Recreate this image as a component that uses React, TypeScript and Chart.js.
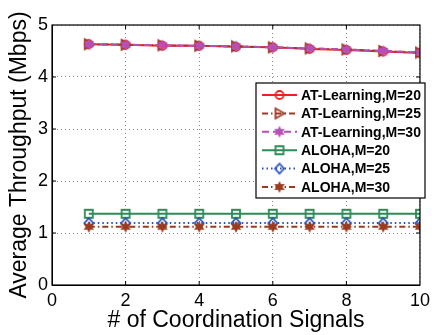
import React, { useEffect, useRef } from "react";
import { Chart, registerables } from "chart.js";

Chart.register(...registerables);

const xValues = [1, 2, 3, 4, 5, 6, 7, 8, 9, 10];
const atM20 = [4.63, 4.62, 4.6, 4.6, 4.58, 4.57, 4.54, 4.52, 4.49, 4.46];
const atM25 = [4.63, 4.62, 4.61, 4.6, 4.59, 4.57, 4.55, 4.53, 4.5, 4.47];
const atM30 = [4.63, 4.62, 4.61, 4.6, 4.59, 4.57, 4.55, 4.53, 4.5, 4.47];
const alohaM20 = [1.37, 1.37, 1.37, 1.37, 1.37, 1.37, 1.37, 1.37, 1.37, 1.37];
const alohaM25 = [1.19, 1.19, 1.19, 1.19, 1.19, 1.19, 1.19, 1.19, 1.19, 1.19];
const alohaM30 = [1.12, 1.12, 1.12, 1.12, 1.12, 1.12, 1.12, 1.12, 1.12, 1.12];
const seriesLabels = [
  "AT-Learning,M=20",
  "AT-Learning,M=25",
  "AT-Learning,M=30",
  "ALOHA,M=20",
  "ALOHA,M=25",
  "ALOHA,M=30",
];
const xTitle = "# of Coordination Signals";
const yTitle = "Average Throughput (Mbps)";

const FONT = "'Liberation Sans', Arial, Helvetica, sans-serif";

function makeMarker(kind: string, color: string): HTMLCanvasElement {
  const s = 16;
  const c = document.createElement("canvas");
  c.width = s;
  c.height = s;
  const ctx = c.getContext("2d")!;
  const cx = s / 2;
  const cy = s / 2;
  ctx.strokeStyle = color;
  ctx.fillStyle = color;
  ctx.lineWidth = 1.8;
  ctx.beginPath();
  if (kind === "circle") {
    ctx.arc(cx, cy, 4, 0, Math.PI * 2);
    ctx.stroke();
  } else if (kind === "triRight") {
    ctx.moveTo(cx + 5, cy);
    ctx.lineTo(cx - 4, cy - 5);
    ctx.lineTo(cx - 4, cy + 5);
    ctx.closePath();
    ctx.stroke();
  } else if (kind === "star") {
    const ro = 6;
    const ri = 3.2;
    for (let i = 0; i < 12; i++) {
      const a = -Math.PI / 2 + (i * Math.PI) / 6;
      const r = i % 2 === 0 ? ro : ri;
      const px = cx + r * Math.cos(a);
      const py = cy + r * Math.sin(a);
      if (i === 0) ctx.moveTo(px, py);
      else ctx.lineTo(px, py);
    }
    ctx.closePath();
    ctx.fill();
  } else if (kind === "square") {
    ctx.rect(cx - 4, cy - 4, 8, 8);
    ctx.stroke();
  } else if (kind === "diamond") {
    ctx.moveTo(cx, cy - 5);
    ctx.lineTo(cx + 4.5, cy);
    ctx.lineTo(cx, cy + 5);
    ctx.lineTo(cx - 4.5, cy);
    ctx.closePath();
    ctx.stroke();
  }
  return c;
}

export default function App() {
  const ref = useRef<HTMLCanvasElement | null>(null);

  useEffect(() => {
    if (!ref.current) return;
    const styles = [
      { color: "#ee2020", dash: [] as number[], marker: "circle" },
      { color: "#a03a28", dash: [6, 3, 1.5, 3], marker: "triRight" },
      { color: "#b650b6", dash: [7, 4], marker: "star" },
      { color: "#2e8b57", dash: [] as number[], marker: "square" },
      { color: "#2a50b8", dash: [1.5, 3], marker: "diamond" },
      { color: "#9c3a1e", dash: [6, 3, 1.5, 3], marker: "star" },
    ];
    const series = [atM20, atM25, atM30, alohaM20, alohaM25, alohaM30];
    const markers = styles.map((s) => makeMarker(s.marker, s.color));

    const datasets = series.map((vals, i) => ({
      label: seriesLabels[i],
      data: vals.map((v, j) => ({ x: xValues[j], y: v })),
      borderColor: styles[i].color,
      borderWidth: 2,
      borderDash: styles[i].dash,
      pointStyle: markers[i],
      pointRadius: 5,
      fill: false,
      tension: 0,
      order: 10 - i,
    }));

    const framePlugin = {
      id: "frame",
      afterDatasetsDraw(chart: any) {
        const { ctx, chartArea } = chart;
        const { left, right, top, bottom } = chartArea;
        ctx.save();
        ctx.strokeStyle = "#000";
        ctx.lineWidth = 1.2;
        ctx.setLineDash([]);
        ctx.strokeRect(left, top, right - left, bottom - top);
        const xs = chart.scales.x;
        const ys = chart.scales.y;
        ctx.lineWidth = 1;
        ctx.beginPath();
        for (let v = 2; v < 10; v += 2) {
          const px = xs.getPixelForValue(v);
          ctx.moveTo(px, bottom);
          ctx.lineTo(px, bottom - 4);
          ctx.moveTo(px, top);
          ctx.lineTo(px, top + 4);
        }
        for (let v = 1; v < 5; v++) {
          const py = ys.getPixelForValue(v);
          ctx.moveTo(left, py);
          ctx.lineTo(left + 4, py);
          ctx.moveTo(right, py);
          ctx.lineTo(right - 4, py);
        }
        ctx.stroke();

        // legend
        const bx = 256;
        const by = 83;
        const bw = 169;
        const bh = 115;
        ctx.fillStyle = "#fff";
        ctx.fillRect(bx, by, bw, bh);
        ctx.strokeStyle = "#000";
        ctx.lineWidth = 1.2;
        ctx.strokeRect(bx, by, bw, bh);
        ctx.font = `bold 14px ${FONT}`;
        ctx.textBaseline = "middle";
        ctx.textAlign = "left";
        for (let i = 0; i < 6; i++) {
          const ry = 95 + i * 18.4;
          ctx.strokeStyle = styles[i].color;
          ctx.lineWidth = 2;
          ctx.setLineDash(styles[i].dash);
          ctx.beginPath();
          ctx.moveTo(262, ry);
          ctx.lineTo(297, ry);
          ctx.stroke();
          ctx.setLineDash([]);
          ctx.drawImage(markers[i], 279.5 - 8, ry - 8);
          ctx.fillStyle = "#000";
          ctx.fillText(seriesLabels[i], 301, ry + 1);
        }
        ctx.restore();
      },
    };

    const chart = new Chart(ref.current, {
      type: "line",
      data: { datasets },
      options: {
        animation: false,
        responsive: false,
        maintainAspectRatio: false,
        layout: { padding: { top: 25, right: 12, left: 0, bottom: 0 } },
        plugins: {
          legend: { display: false },
          tooltip: { enabled: false },
        },
        scales: {
          x: {
            type: "linear",
            min: 0,
            max: 10,
            afterFit: (s: any) => {
              s.height = 50;
            },
            ticks: {
              stepSize: 2,
              color: "#000",
              padding: 5,
              maxRotation: 0,
              font: { family: FONT, size: 18 },
            },
            grid: {
              color: "#888",
              lineWidth: 1,
              drawTicks: false,
            },
            border: { display: true, color: "#000", dash: [1, 3] },
            title: {
              display: true,
              text: xTitle,
              color: "#000",
              font: { family: FONT, size: 23 },
              padding: { top: 0, bottom: 1 },
            },
          },
          y: {
            type: "linear",
            min: 0,
            max: 5,
            afterFit: (s: any) => {
              s.width = 52;
            },
            ticks: {
              stepSize: 1,
              color: "#000",
              padding: 4,
              font: { family: FONT, size: 18 },
            },
            grid: {
              color: "#888",
              lineWidth: 1,
              drawTicks: false,
            },
            border: { display: true, color: "#000", dash: [1, 3] },
            title: {
              display: true,
              text: yTitle,
              color: "#000",
              font: { family: FONT, size: 23 },
              padding: { top: 6, bottom: 0 },
            },
          },
        },
      },
      plugins: [framePlugin],
    });
    return () => chart.destroy();
  }, []);

  return (
    <div style={{ position: "fixed", left: 0, top: 0, width: 435, height: 335, background: "#fff" }}>
      <canvas ref={ref} width={435} height={335} style={{ width: 435, height: 335 }} />
    </div>
  );
}
